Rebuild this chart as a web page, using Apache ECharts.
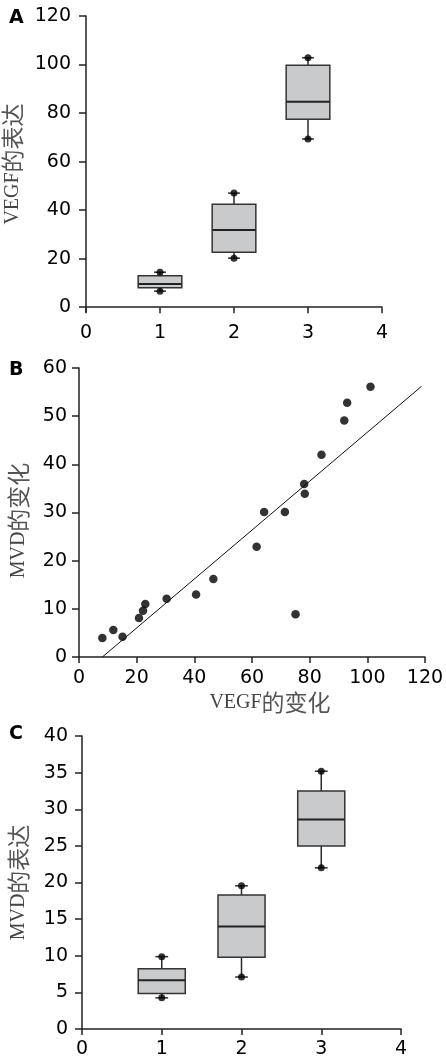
<!DOCTYPE html>
<html>
<head>
<meta charset="utf-8">
<script src="https://cdn.jsdelivr.net/npm/echarts@6/dist/echarts.min.js"></script>
<style>
  html, body { margin: 0; padding: 0; background: #fff; }
  #chart { width: 446px; height: 1064px; }
</style>
</head>
<body>
<div id="chart"></div>
<script>
// A: VEGF expression per group (box plot)
const groups = [1, 2, 3]
const vegfMin = [6.6, 20.2, 69.3]
const vegfQ1 = [8.0, 22.6, 77.4]
const vegfMed = [9.5, 31.8, 84.7]
const vegfQ3 = [12.9, 42.4, 99.7]
const vegfMax = [14.4, 47.0, 102.8]

// B: VEGF change vs MVD change
const vegfChange = [8.1, 11.9, 15.1, 20.8, 22.2, 23.0, 30.4, 40.6, 46.6, 61.6, 64.2, 71.4, 75.1, 78.1, 78.3, 84.1, 92.0, 93.0, 101.1]
const mvdChange = [3.95, 5.6, 4.2, 8.1, 9.6, 11.0, 12.1, 13.0, 16.2, 22.9, 30.1, 30.1, 8.9, 35.9, 33.9, 42.0, 49.1, 52.8, 56.1]
const fitX = [8.1, 118.8]
const fitY = [0, 56.2]

// C: MVD expression per group
const mvdMin = [4.25, 7.1, 22.0]
const mvdQ1 = [4.84, 9.78, 25.0]
const mvdMed = [6.65, 14.0, 28.6]
const mvdQ3 = [8.24, 18.3, 32.5]
const mvdMax = [9.88, 19.55, 35.2]

const ticksA = [0, 20, 40, 60, 80, 100, 120]

const BOX_W = 0.59
const CAP_W = 0.16

const tickFont = { fontFamily: "'DejaVu Sans', sans-serif", fontSize: 19, color: '#000' }
const nameRich = {
  l: { fontFamily: "'Liberation Serif', serif", fontSize: 20, color: '#444' },
  c: { fontFamily: "'Noto Sans CJK SC', sans-serif", fontSize: 23, color: '#555' },
}
const axisLine = { lineStyle: { color: '#222', width: 1.5 } }
const letterStyle = { fontFamily: "'DejaVu Sans', sans-serif", fontSize: 19, fontWeight: 'bold', color: '#000' }

function xAxisOf(gridIndex, max, interval, extra) {
  return Object.assign({
    type: 'value', gridIndex, min: 0, max, interval,
    axisLine, axisTick: { length: 6, lineStyle: { color: '#222', width: 1.5 } },
    axisLabel: Object.assign({ margin: 12 }, tickFont),
    splitLine: { show: false },
  }, extra)
}

function yAxisOf(gridIndex, min, max, extra) {
  return Object.assign({
    type: 'value', gridIndex, min, max,
    axisLine: Object.assign({ show: true }, axisLine),
    axisTick: { show: true, length: 7, lineStyle: { color: '#222', width: 1.5 } },
    axisLabel: Object.assign({ margin: 14 }, tickFont),
    splitLine: { show: false },
    nameLocation: 'middle', nameRotate: 90,
  }, extra)
}

function renderBox(params, api) {
  const x = api.value(0)
  const lo = api.coord([x, api.value(1)])
  const q1 = api.coord([x, api.value(2)])
  const md = api.coord([x, api.value(3)])
  const q3 = api.coord([x, api.value(4)])
  const hi = api.coord([x, api.value(5)])
  const half = api.size([BOX_W, 0])[0] / 2
  const cap = api.size([CAP_W, 0])[0] / 2
  const ln = { stroke: '#2b2b2b', lineWidth: 1.5 }
  return {
    type: 'group',
    children: [
      { type: 'line', shape: { x1: q3[0], y1: q3[1], x2: hi[0], y2: hi[1] }, style: ln },
      { type: 'line', shape: { x1: q1[0], y1: q1[1], x2: lo[0], y2: lo[1] }, style: ln },
      { type: 'line', shape: { x1: hi[0] - cap, y1: hi[1], x2: hi[0] + cap, y2: hi[1] }, style: ln },
      { type: 'line', shape: { x1: lo[0] - cap, y1: lo[1], x2: lo[0] + cap, y2: lo[1] }, style: ln },
      {
        type: 'rect',
        shape: { x: q3[0] - half, y: q3[1], width: half * 2, height: q1[1] - q3[1] },
        style: { fill: '#c9cacc', stroke: '#333', lineWidth: 1.5 },
      },
      { type: 'line', shape: { x1: md[0] - half, y1: md[1], x2: md[0] + half, y2: md[1] }, style: { stroke: '#222', lineWidth: 2 } },
    ],
  }
}

const boxA = groups.map((g, i) => [g, vegfMin[i], vegfQ1[i], vegfMed[i], vegfQ3[i], vegfMax[i]])
const endsA = groups.flatMap((g, i) => [[g, vegfMin[i]], [g, vegfMax[i]]])
const boxC = groups.map((g, i) => [g, mvdMin[i], mvdQ1[i], mvdMed[i], mvdQ3[i], mvdMax[i]])
const endsC = groups.flatMap((g, i) => [[g, mvdMin[i]], [g, mvdMax[i]]])
const scatterB = vegfChange.map((v, i) => [v, mvdChange[i]])

const chart = echarts.init(document.getElementById('chart'), null, { renderer: 'canvas' })

chart.setOption({
  animation: false,
  backgroundColor: '#fff',
  title: [
    { text: 'A', left: 9, top: 9, padding: 0, textStyle: letterStyle },
    { text: 'B', left: 9, top: 361, padding: 0, textStyle: letterStyle },
    { text: 'C', left: 9, top: 725, padding: 0, textStyle: letterStyle },
  ],
  grid: [
    { left: 86, top: 16, width: 296, height: 296, outerBoundsMode: 'none' },
    { left: 79, top: 368, width: 346, height: 289, outerBoundsMode: 'none' },
    { left: 82, top: 736, width: 319, height: 293, outerBoundsMode: 'none' },
  ],
  xAxis: [
    xAxisOf(0, 4, 1),
    xAxisOf(1, 120, 20, {
      name: '{l|VEGF}{c|的变化}', nameLocation: 'middle', nameGap: 34,
      nameTextStyle: { rich: nameRich, padding: [0, 0, 0, 36] },
    }),
    xAxisOf(2, 4, 1, { axisLabel: Object.assign({ margin: 11 }, tickFont) }),
  ],
  yAxis: [
    yAxisOf(0, -2, 120, {
      axisLabel: Object.assign({ margin: 15, customValues: ticksA }, tickFont),
      axisTick: { show: true, length: 7, customValues: ticksA, lineStyle: { color: '#222', width: 1.5 } },
      name: '{l|VEGF}{c|的表达}', nameGap: 56, nameTextStyle: { rich: nameRich },
    }),
    yAxisOf(1, 0, 60, {
      interval: 10,
      axisLabel: Object.assign({ margin: 12 }, tickFont),
      name: '{l|MVD}{c|的变化}', nameGap: 49, nameTextStyle: { rich: nameRich, padding: [0, 16, 0, 0] },
    }),
    yAxisOf(2, 0, 40, {
      interval: 5,
      name: '{l|MVD}{c|的表达}', nameGap: 52, nameTextStyle: { rich: nameRich },
    }),
  ],
  series: [
    { type: 'custom', xAxisIndex: 0, yAxisIndex: 0, renderItem: renderBox, data: boxA, silent: true },
    { type: 'scatter', xAxisIndex: 0, yAxisIndex: 0, data: endsA, symbolSize: 7, itemStyle: { color: '#000' } },
    { type: 'line', xAxisIndex: 1, yAxisIndex: 1, data: [[fitX[0], fitY[0]], [fitX[1], fitY[1]]], symbol: 'none', lineStyle: { color: '#111', width: 1 } },
    { type: 'scatter', xAxisIndex: 1, yAxisIndex: 1, data: scatterB, symbolSize: 8.5, itemStyle: { color: '#000' } },
    { type: 'custom', xAxisIndex: 2, yAxisIndex: 2, renderItem: renderBox, data: boxC, silent: true },
    { type: 'scatter', xAxisIndex: 2, yAxisIndex: 2, data: endsC, symbolSize: 7, itemStyle: { color: '#000' } },
  ],
})

window.addEventListener('resize', () => chart.resize())
</script>
</body>
</html>
